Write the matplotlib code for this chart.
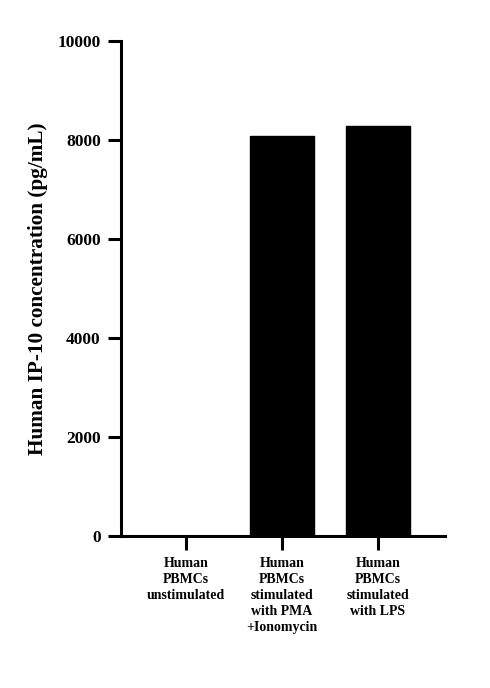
import matplotlib
matplotlib.use("Agg")
import matplotlib.pyplot as plt

categories = ["Human\nPBMCs\nunstimulated",
              "Human\nPBMCs\nstimulated\nwith PMA\n+Ionomycin",
              "Human\nPBMCs\nstimulated\nwith LPS"]
values = [10, 8090, 8285]
yticks = [0, 2000, 4000, 6000, 8000, 10000]
ylabel = "Human IP-10 concentration (pg/mL)"

plt.rcParams['font.family'] = ['Liberation Serif', 'DejaVu Serif']
plt.rcParams['font.weight'] = 'bold'

fig = plt.figure(figsize=(4.9, 6.88), dpi=100)
ax = fig.add_axes([121/490, 152/688, 324/490, 495/688])

x = list(range(len(categories)))
ax.bar(x, values, width=0.667, color='black', edgecolor='black')

ax.set_xlim(-0.677, 2.698)
ax.set_ylim(0, 10000)
ax.set_yticks(yticks)
ax.set_yticklabels([str(t) for t in yticks], fontsize=12.5, fontweight='bold')
ax.set_xticks(x)
ax.set_xticklabels(categories, fontsize=10, fontweight='bold', linespacing=1.3)
ax.set_ylabel(ylabel, fontsize=15.3, fontweight='bold', labelpad=7)

for s in ['top', 'right']:
    ax.spines[s].set_visible(False)
for s in ['left', 'bottom']:
    ax.spines[s].set_linewidth(2.2)
ax.tick_params(axis='y', width=2.2, length=9.5, pad=5)
ax.tick_params(axis='x', width=2.2, length=10, pad=5)

fig.savefig("out.png", dpi=100)
